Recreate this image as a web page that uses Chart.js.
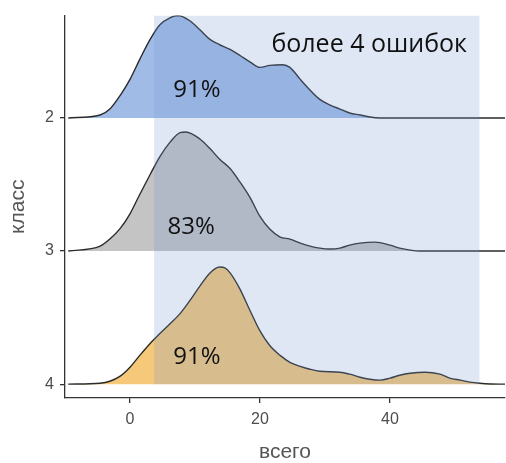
<!DOCTYPE html>
<html>
<head>
<meta charset="utf-8">
<script src="https://cdn.jsdelivr.net/npm/chart.js@4"></script>
<style>
  html, body { margin: 0; padding: 0; background: #fff; }
  #wrap { width: 506px; height: 463px; position: relative; }
</style>
</head>
<body>
<div id="wrap"><canvas id="ridges"></canvas></div>
<script>
// классы (позиция по оси y) и подписи
var classes = [2, 3, 4];
var xTicks = [0, 20, 40];
var pctLabels = ['91%', '83%', '91%'];
var noteText = 'более 4 ошибок';

// область "более 4 ошибок" по оси x
var zoneFrom = 3.7;
var zoneTo = 53.8;

// плотности: x и высота гребня (в долях шага между классами)
var x2 = [-9.5, -4.6, -3.1, -1.5, 0, 1.5, 3.1, 4.6, 6.2, 7.4, 9.2, 10.8, 12.3, 13.8, 15.4, 16.9, 18.5, 20, 21.5, 23.5, 24.6, 26.2, 27.7, 29.2, 30.8, 32.3, 33.8, 35.4, 36.9, 38.5, 57.7];
var h2 = [0, .022, .067, .17, .29, .44, .59, .70, .754, .77, .73, .66, .59, .55, .515, .47, .42, .38, .395, .40, .38, .29, .21, .14, .097, .067, .037, .022, .007, 0, 0];

var x3 = [-9.5, -4.6, -3.1, -1.5, 0, 1.5, 3.1, 4.6, 6.2, 7.7, 8.6, 10.8, 12.3, 13.8, 15.4, 16.9, 18.5, 20, 21.5, 23.1, 24.6, 26.2, 27.7, 29.2, 30.8, 32.3, 33.8, 35.4, 37.7, 40, 41.5, 43.1, 44.6, 57.7];
var h3 = [0, .037, .09, .17, .28, .425, .575, .71, .82, .89, .895, .84, .77, .69, .62, .52, .40, .26, .165, .105, .09, .06, .037, .022, .015, .022, .045, .06, .067, .045, .022, .007, 0, 0];

var x4 = [-9.5, -4.6, -3.1, -1.5, 0, 1.5, 3.1, 4.6, 6.2, 7.7, 9.2, 10.8, 12.3, 13.8, 14.6, 15.4, 16.9, 18.5, 20, 21.5, 23.1, 24.6, 26.2, 27.7, 29.2, 32.3, 33.8, 35.4, 36.9, 38.5, 40, 41.5, 43.1, 45.4, 47.7, 49.2, 50.8, 52.3, 53.8, 56.9, 57.7];
var h4 = [0, .007, .022, .06, .127, .216, .306, .38, .455, .53, .627, .74, .836, .88, .873, .836, .716, .55, .40, .29, .216, .164, .134, .112, .097, .09, .075, .052, .037, .03, .045, .067, .082, .09, .075, .045, .03, .015, .007, 0, 0];

var ridgeX = [x2, x3, x4];
var ridgeH = [h2, h3, h4];
var fills = ['#a0bce6', '#c4c4c4', '#f5c979'];

// подписи процентов: [x, y] в координатах осей
var pctPos = [[10.3, 1.79], [9.4, 2.82], [10.3, 3.80]];
var notePos = [36.8, 1.45];

Chart.defaults.font.family = '"Liberation Sans", Arial, sans-serif';

function ridgePoints(k) {
  var pts = [];
  for (var i = 0; i < ridgeX[k].length; i++) {
    pts.push({ x: ridgeX[k][i], y: classes[k] - ridgeH[k][i] });
  }
  return pts;
}

var datasets = [];
// полупрозрачная зона поверх гребней
datasets.push({
  data: [{ x: zoneFrom, y: 1.224 }, { x: zoneTo, y: 1.224 }],
  borderWidth: 0,
  pointRadius: 0,
  backgroundColor: 'rgba(115,152,212,0.23)',
  fill: { value: 4 }
});
for (var k = 0; k < classes.length; k++) {
  datasets.push({
    data: ridgePoints(k),
    borderColor: '#2b2b2b',
    borderWidth: 1.4,
    pointRadius: 0,
    cubicInterpolationMode: 'monotone',
    backgroundColor: fills[k],
    fill: { value: classes[k] }
  });
}

var textPlugin = {
  id: 'ridgeText',
  afterDatasetsDraw: function (chart) {
    var ctx = chart.ctx;
    var xs = chart.scales.x, ys = chart.scales.y;
    ctx.save();
    ctx.fillStyle = '#111';
    ctx.textAlign = 'center';
    ctx.textBaseline = 'middle';
    ctx.font = '24px "Open Sans"';
    for (var i = 0; i < pctLabels.length; i++) {
      ctx.fillText(pctLabels[i], xs.getPixelForValue(pctPos[i][0]), ys.getPixelForValue(pctPos[i][1]));
    }
    ctx.font = '25px "Open Sans"';
    ctx.fillText(noteText, xs.getPixelForValue(notePos[0]), ys.getPixelForValue(notePos[1]));
    ctx.restore();
  }
};

new Chart(document.getElementById('ridges'), {
  type: 'line',
  data: { datasets: datasets },
  plugins: [textPlugin],
  options: {
    responsive: true,
    maintainAspectRatio: false,
    animation: false,
    layout: { padding: { top: 11, right: 1, left: 0, bottom: 0 } },
    plugins: { legend: { display: false }, tooltip: { enabled: false } },
    scales: {
      x: {
        type: 'linear',
        min: -10,
        max: 57.7,
        afterBuildTicks: function (scale) {
          scale.ticks = xTicks.map(function (v) { return { value: v }; });
        },
        afterFit: function (scale) { scale.height = 65; },
        grid: { drawOnChartArea: false, drawTicks: true, tickLength: 5, color: '#333', lineWidth: 1.3 },
        border: { display: true, color: '#333', width: 1.3 },
        ticks: { color: '#4d4d4d', font: { size: 16 }, padding: 7, maxRotation: 0 },
        title: { display: true, text: 'всего', color: '#555', font: { size: 21, lineHeight: 1 }, padding: { top: 2, bottom: 0 } }
      },
      y: {
        type: 'linear',
        reverse: true,
        min: 1.231,
        max: 4.104,
        afterBuildTicks: function (scale) {
          scale.ticks = classes.map(function (v) { return { value: v }; });
        },
        afterFit: function (scale) { scale.width = 65; },
        grid: { drawOnChartArea: false, drawTicks: true, tickLength: 5, color: '#333', lineWidth: 1.3 },
        border: { display: true, color: '#333', width: 1.3 },
        ticks: { color: '#4d4d4d', font: { size: 16 }, padding: 6 },
        title: { display: true, text: 'класс', color: '#555', font: { size: 21 }, padding: { top: 6, bottom: 0 } }
      }
    }
  }
});
</script>
</body>
</html>
